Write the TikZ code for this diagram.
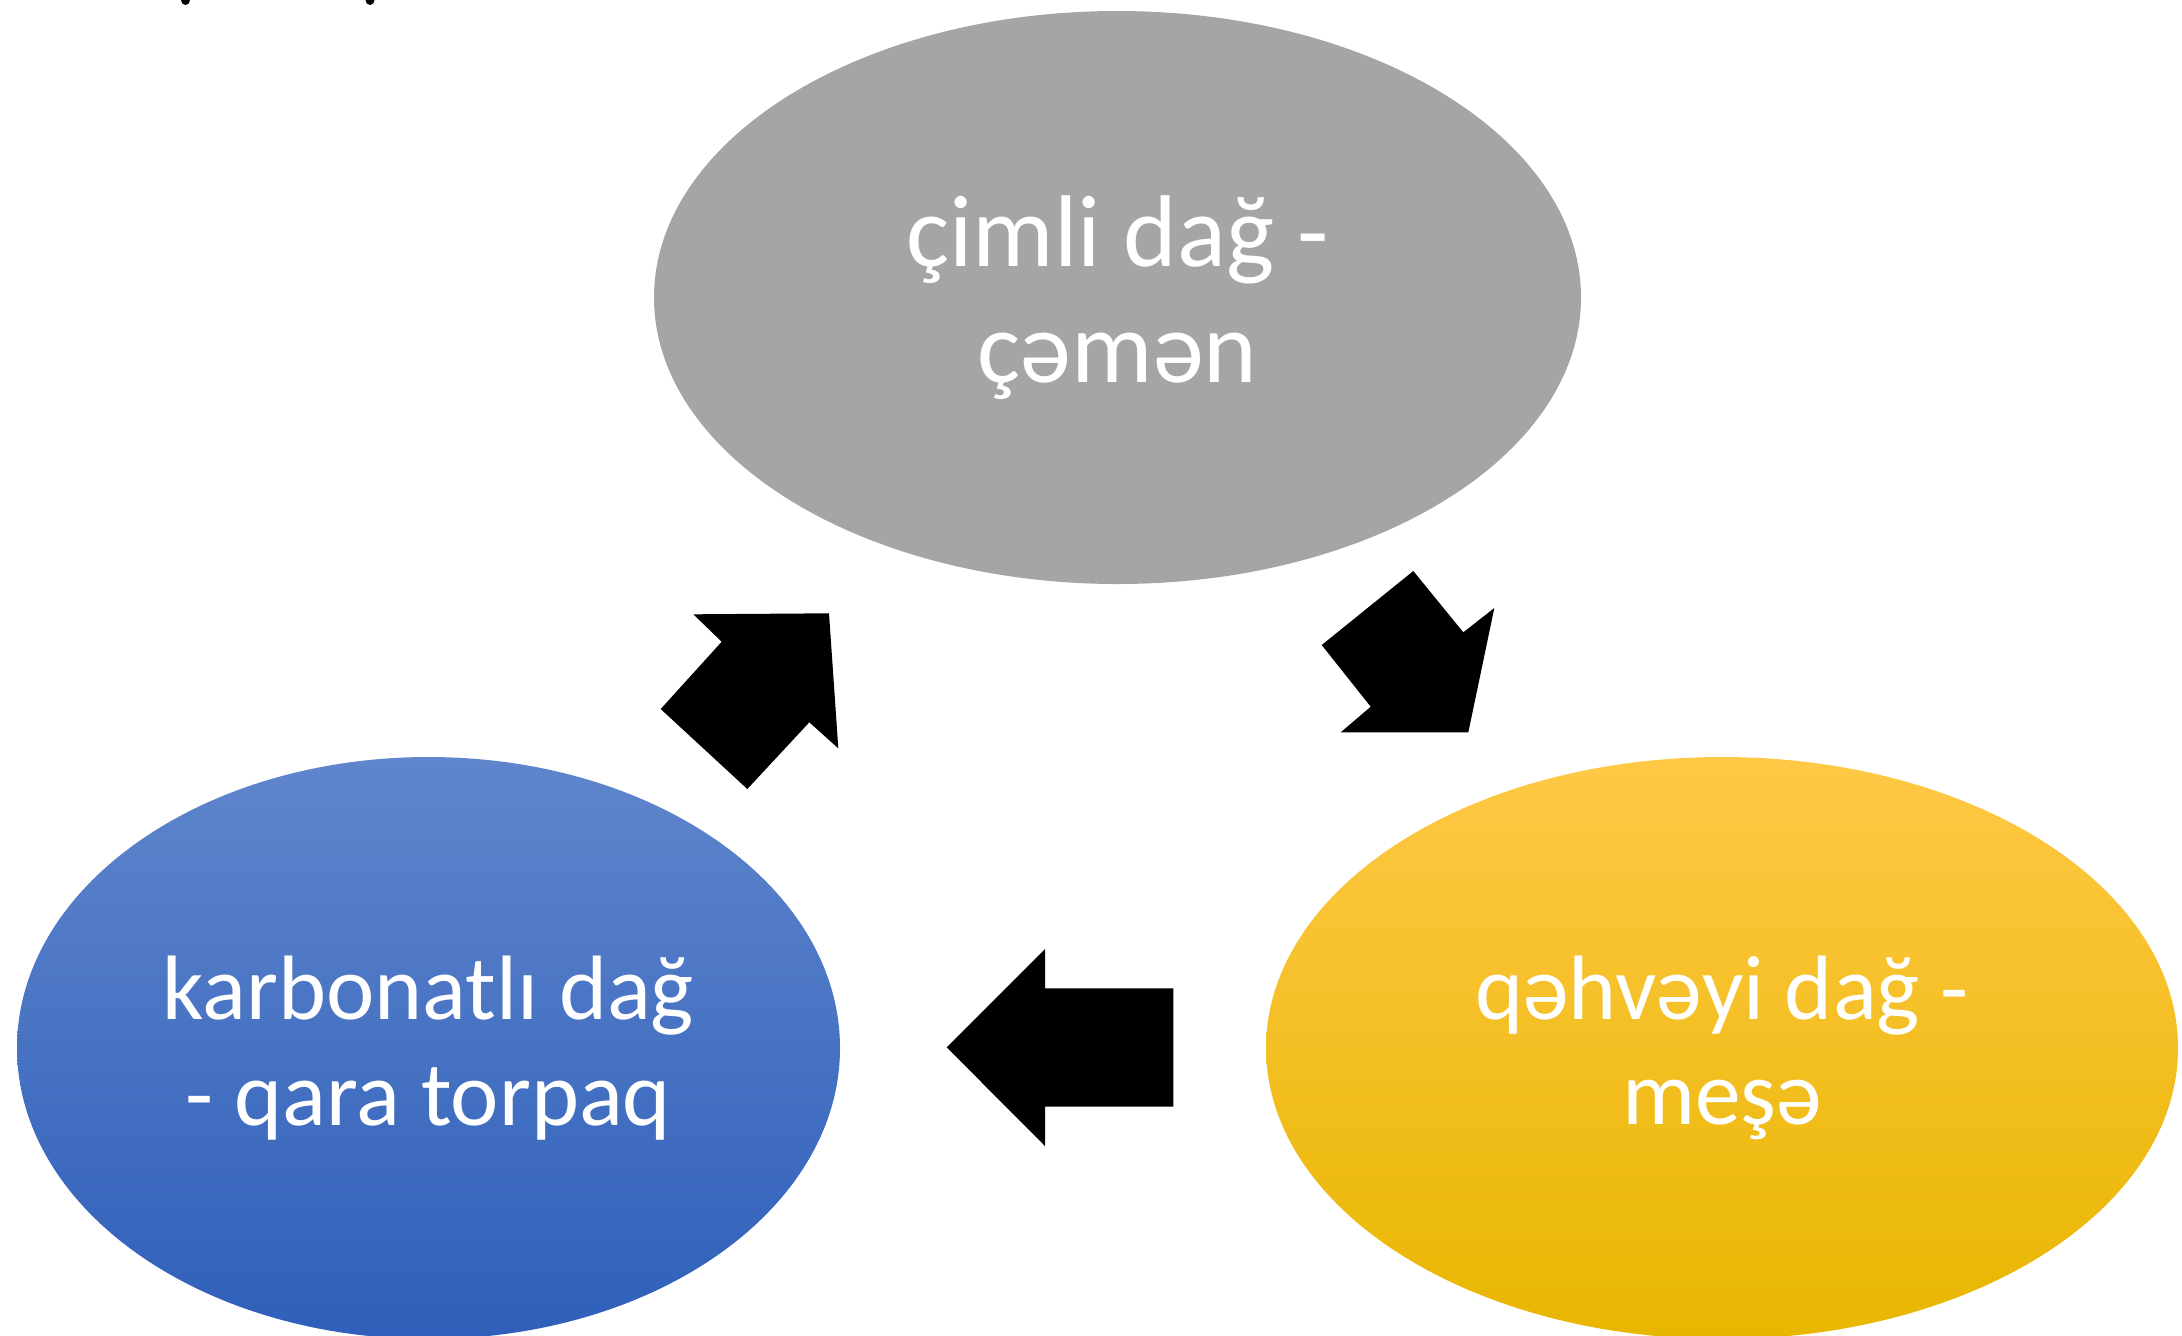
\documentclass[tikz,border=0pt]{standalone}
\usepackage{fontspec}
\setmainfont{Carlito}
\usetikzlibrary{shapes.geometric}
\definecolor{soilgray}{HTML}{A5A5A5}
\definecolor{soilbluetop}{HTML}{5F86CC}
\definecolor{soilblue}{HTML}{4472C4}
\definecolor{soilbluebot}{HTML}{2F5FBA}
\definecolor{soilyellowtop}{HTML}{FFC846}
\definecolor{soilyellow}{HTML}{FFC30A}
\definecolor{soilyellowbot}{HTML}{E8B600}

\begin{document}
\begin{tikzpicture}[x=0.5pt, y=-0.5pt,
  soil/.style={ellipse, inner sep=0pt, align=center, text=white},
  bigtext/.style={font=\fontsize{51}{58.3}\selectfont},
  smalltext/.style={font=\fontsize{45.75}{52.8}\selectfont},
  blockarrow/.style={fill=black}
]
\useasboundingbox (0,0) rectangle (2182,1335);
% the three soil belts
\node[soil, bigtext, fill=soilgray, minimum width=463.5pt, minimum height=286.5pt] (chimli) at (1117.5,297.5) {çimli dağ -\\çəmən};
\node[soil, smalltext, top color=soilbluetop, middle color=soilblue, bottom color=soilbluebot, minimum width=411.5pt, minimum height=291pt] (karbonat) at (428.5,1048) {karbonatlı dağ\\- qara torpaq};
\node[soil, smalltext, top color=soilyellowtop, middle color=soilyellow, bottom color=soilyellowbot, minimum width=456pt, minimum height=291pt] (qehveyi) at (1722,1048) {qəhvəyi dağ -\\meşə};

% block arrows of the cycle
\fill[blockarrow] (693.3,614.3) -- (829,613.3) -- (838.3,748.3) -- (809.3,722.3) -- (747.3,789) -- (660.7,709) -- (721.7,641.7) -- cycle;
\fill[blockarrow] (1413.3,571) -- (1463.3,632.3) -- (1494.3,608) -- (1468.3,732.3) -- (1340.7,732.3) -- (1370.7,706.7) -- (1321.7,645) -- cycle;
\fill[blockarrow] (946.7,1047.3) -- (1045,949) -- (1045,988.3) -- (1173.3,988.3) -- (1173.3,1106.7) -- (1045,1106.7) -- (1045,1146) -- cycle;

% cut-off marks at the top edge
\fill (185.5,0) ellipse [x radius=4.5, y radius=5];
\fill (370,0) ellipse [x radius=4.5, y radius=5];
\end{tikzpicture}
\end{document}
